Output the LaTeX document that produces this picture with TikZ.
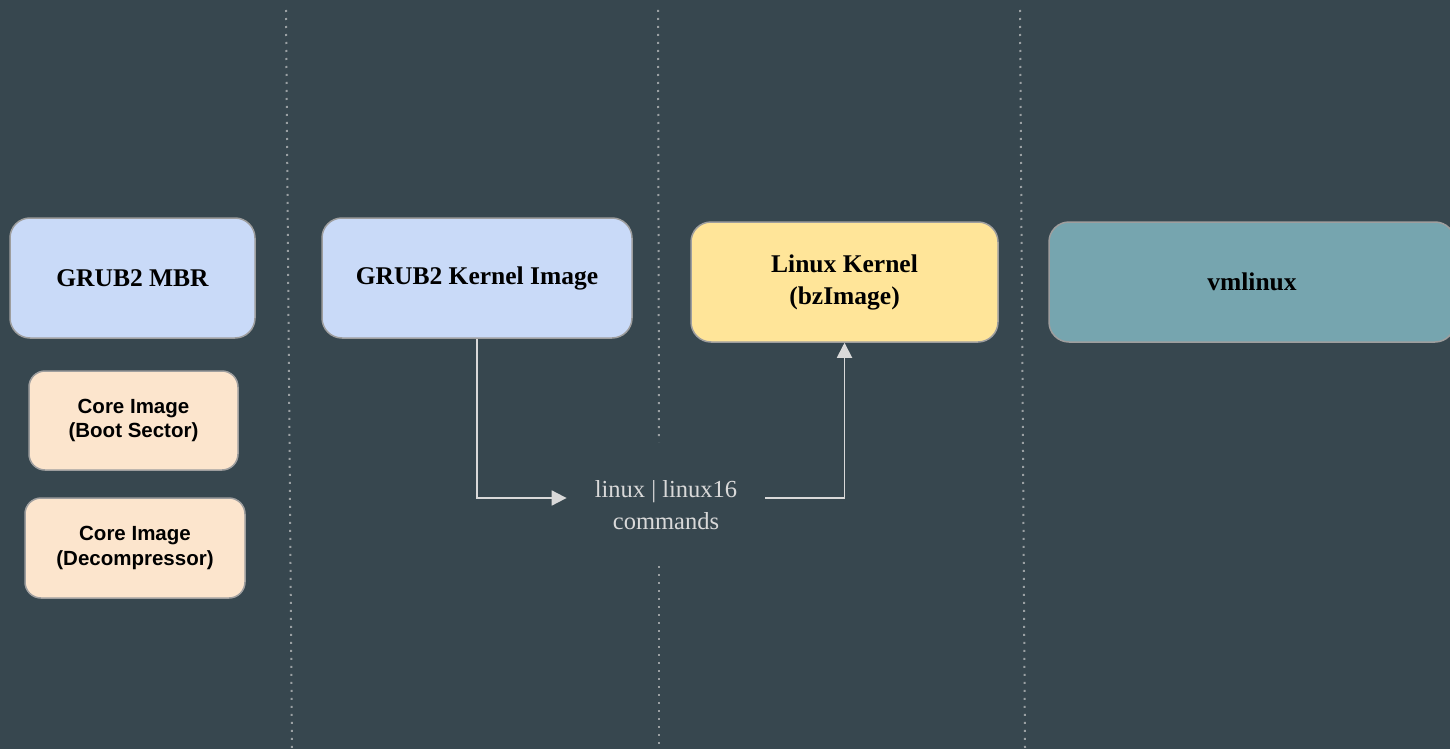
\documentclass[tikz,border=0pt]{standalone}
\usepackage{fontspec}
\setmainfont{Liberation Serif}
\setsansfont{Liberation Sans}
\usetikzlibrary{arrows.meta}
\definecolor{bg}{HTML}{37474F}
\definecolor{bluebox}{HTML}{C9DAF8}
\definecolor{peach}{HTML}{FCE5CD}
\definecolor{yel}{HTML}{FFE599}
\definecolor{teal}{HTML}{76A5AF}
\definecolor{edge}{HTML}{9E9E9E}
\definecolor{linec}{HTML}{D9D9D9}
\definecolor{dotc}{HTML}{9AA0A3}
\setlength{\tabcolsep}{0pt}
\newcommand{\twolines}[2]{\raisebox{-3pt}{\begin{tabular}{c}#1\\#2\end{tabular}}}
\tikzset{
  box/.style={draw=edge, line width=1.5pt, rounded corners=20pt, inner sep=0pt, align=center,
    font=\bfseries\fontsize{25.5}{32}\selectfont, text=black},
  sbox/.style={draw=edge, line width=1.5pt, rounded corners=16pt, inner sep=0pt, align=center,
    fill=peach, font=\sffamily\bfseries\fontsize{20.5}{24.5}\selectfont, text=black},
  conn/.style={draw=linec, line width=1.8pt, -{Triangle[length=15pt,width=15pt]}},
  sep/.style={draw=dotc, line width=2pt, dash pattern=on 2pt off 6pt},
  lbl/.style={text=linec, align=center, inner ysep=0pt, inner xsep=28pt, font=\fontsize{24.5}{32}\selectfont}
}
\begin{document}
\begin{tikzpicture}[x=1pt,y=-1pt]
\fill[bg] (0,0) rectangle (1450,749);
\useasboundingbox (0,0) rectangle (1450,749);
% separators
\draw[sep] (286,10) -- (292,749);
\draw[sep] (658,10) -- (659,442);
\draw[sep] (659,566) -- (659,749);
\draw[sep] (1020,10) -- (1025,749);
% boxes
\node[box, fill=bluebox, minimum width=245pt, minimum height=120pt] (mbr) at (132.5,278) {\raisebox{-2pt}{GRUB2 MBR}};
\node[sbox, minimum width=209pt, minimum height=99pt] (cbs) at (133.5,420.5) {\twolines{Core Image}{(Boot Sector)}};
\node[sbox, minimum width=220pt, minimum height=100pt] (cdc) at (135,548) {\twolines{Core Image}{(Decompressor)}};
\node[box, fill=bluebox, minimum width=310pt, minimum height=120pt] (kimg) at (477,278) {\raisebox{-2pt}{GRUB2 Kernel Image}};
\node[box, fill=yel, minimum width=307pt, minimum height=120pt] (lk) at (844.5,282) {Linux Kernel\\(bzImage)};
\node[box, fill=teal, minimum width=406pt, minimum height=120pt] (vml) at (1252,282) {vmlinux};
% label
\node[lbl] (cmd) at (666,505) {linux | linux16\\commands};
% connectors
\draw[conn] (kimg.south) |- ([yshift=7pt]cmd.west);
\draw[conn] ([yshift=7pt]cmd.east) -| (lk.south);
\end{tikzpicture}
\end{document}
